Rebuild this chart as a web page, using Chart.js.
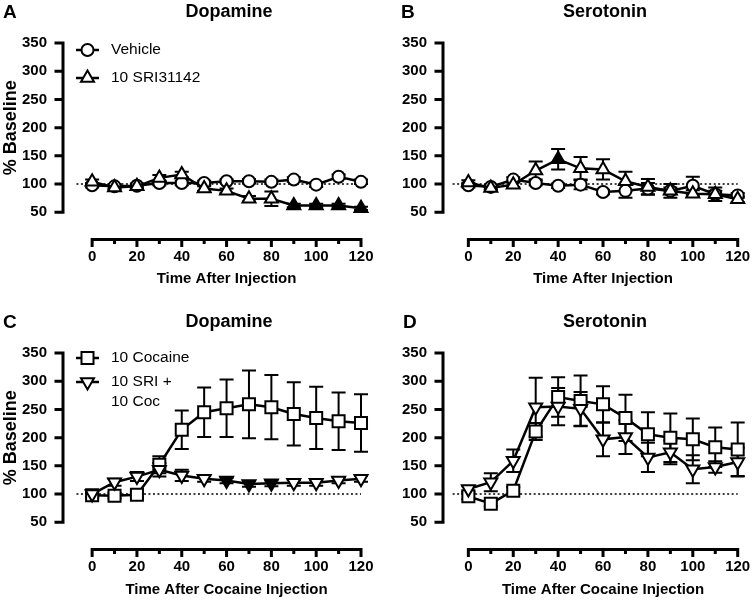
<!DOCTYPE html>
<html>
<head>
<meta charset="utf-8">
<script src="https://cdn.jsdelivr.net/npm/chart.js@4.4.0/dist/chart.umd.min.js"></script>
<style>
  body { margin: 0; background: #fff; }
  #wrap { display: grid; grid-template-columns: 376px 376px; grid-template-rows: 300px 300px; width: 752px; }
  canvas { display: block; }
</style>
</head>
<body>
<div id="wrap">
  <canvas id="pa" width="376" height="300"></canvas>
  <canvas id="pb" width="376" height="300"></canvas>
  <canvas id="pc" width="376" height="300"></canvas>
  <canvas id="pd" width="376" height="300"></canvas>
</div>
<script>
// time points (min) and axis ticks
const times = [0, 10, 20, 30, 40, 50, 60, 70, 80, 90, 100, 110, 120];
const xTickLabels = [0, 20, 40, 60, 80, 100, 120];
const xMinorTicks = [10, 30, 50, 70, 90, 110];
const yTickLabels = [50, 100, 150, 200, 250, 300, 350];
const baseline = 100;

// A - dopamine, SRI31142 alone
const daVehicle    = [98, 96, 97, 102, 102, 102, 105, 105, 104, 108, 99, 113, 104];
const daVehicleErr = [4, 4, 4, 4, 4, 4, 3, 4, 4, 4, 4, 4, 4];
const daSri        = [104, 94, 96, 111, 117, 92, 88, 74, 74, 62, 62, 62, 57];
const daSriErr     = [4, 4, 4, 5, 5, 4, 4, 5, 13, 3, 3, 3, 3];
const daSriSig     = [90, 100, 110, 120];

// B - serotonin, SRI31142 alone
const htVehicle    = [98, 95, 108, 102, 97, 99, 86, 88, 92, 88, 97, 82, 80];
const htVehicleErr = [4, 4, 4, 4, 4, 8, 4, 12, 10, 6, 16, 6, 4];
const htSri        = [103, 93, 99, 124, 144, 128, 126, 105, 95, 88, 83, 82, 73];
const htSriErr     = [4, 4, 4, 16, 18, 20, 18, 17, 14, 12, 6, 12, 5];
const htSriSig     = [40];

// C - dopamine, cocaine challenge
const daCoc        = [98, 97, 99, 152, 214, 245, 252, 259, 254, 242, 235, 229, 226];
const daCocErr     = [5, 5, 5, 15, 34, 44, 51, 60, 57, 56, 55, 51, 51];
const daSriCoc     = [100, 121, 131, 143, 133, 127, 124, 118, 119, 120, 120, 124, 127];
const daSriCocErr  = [5, 6, 8, 12, 10, 5, 5, 5, 5, 5, 5, 5, 5];
const daSriCocSig  = [60, 70, 80];

// D - serotonin, cocaine challenge
const htCoc        = [96, 83, 106, 211, 272, 265, 259, 235, 206, 200, 197, 183, 179];
const htCocErr     = [5, 5, 6, 15, 35, 45, 32, 41, 39, 43, 37, 35, 48];
const htSriCoc     = [109, 121, 159, 254, 255, 251, 197, 201, 165, 174, 144, 148, 157];
const htSriCocErr  = [5, 16, 20, 52, 33, 30, 30, 30, 26, 21, 25, 10, 25];

const FONT = '"Liberation Sans", Arial, Helvetica, sans-serif';
Chart.defaults.font.family = FONT;
Chart.defaults.color = '#000';

const shapes = {
  circle:  { pointStyle: 'circle', radius: 6, rotation: 0 },
  tri:     { pointStyle: 'triangle', radius: 7.5, rotation: 0 },
  triDown: { pointStyle: 'triangle', radius: 7.5, rotation: 180 },
  square:  { pointStyle: 'rect', radius: 8.5, rotation: 0 }
};

const rowTop = { top: 43, bottom: 239.4, titleY: 17, letterY: 18, xTitleY: 283, legendY: [50, 78] };
const rowBottom = { top: 53, bottom: 249.4, titleY: 27, letterY: 28, xTitleY: 294, legendY: [58, 82] };

const panels = [
  { id: 'pa', letter: 'A', letterX: 3, title: 'Dopamine', xTitle: 'Time After Injection', yTitle: '% Baseline',
    row: rowTop, left: 63, right: 361, xMin: -13, legend: true,
    series: [
      { label: '10 SRI31142', values: daSri, errs: daSriErr, sig: daSriSig, shape: 'tri' },
      { label: 'Vehicle', values: daVehicle, errs: daVehicleErr, sig: [], shape: 'circle' }
    ] },
  { id: 'pb', letter: 'B', letterX: 25, title: 'Serotonin', xTitle: 'Time After Injection', yTitle: null,
    row: rowTop, left: 67, right: 361.7, xMin: -11.3, legend: false,
    series: [
      { label: '10 SRI31142', values: htSri, errs: htSriErr, sig: htSriSig, shape: 'tri' },
      { label: 'Vehicle', values: htVehicle, errs: htVehicleErr, sig: [], shape: 'circle' }
    ] },
  { id: 'pc', letter: 'C', letterX: 3, title: 'Dopamine', xTitle: 'Time After Cocaine Injection', yTitle: '% Baseline',
    row: rowBottom, left: 63, right: 361, xMin: -13, legend: true,
    series: [
      { label: '10 SRI +\n10 Coc', values: daSriCoc, errs: daSriCocErr, sig: daSriCocSig, shape: 'triDown' },
      { label: '10 Cocaine', values: daCoc, errs: daCocErr, sig: [], shape: 'square' }
    ] },
  { id: 'pd', letter: 'D', letterX: 27, title: 'Serotonin', xTitle: 'Time After Cocaine Injection', yTitle: null,
    row: rowBottom, left: 67, right: 361.7, xMin: -11.3, legend: false,
    series: [
      { label: '10 SRI +\n10 Coc', values: htSriCoc, errs: htSriCocErr, sig: [], shape: 'triDown' },
      { label: '10 Cocaine', values: htCoc, errs: htCocErr, sig: [], shape: 'square' }
    ] }
];

function decor(p) {
  return {
    id: 'decor' + p.letter,
    beforeDatasetsDraw(chart) {
      // error bars sit behind the markers
      const ctx = chart.ctx, xs = chart.scales.x, ys = chart.scales.y;
      ctx.save();
      ctx.strokeStyle = '#000';
      ctx.lineWidth = 2;
      p.series.forEach(s => {
        s.values.forEach((v, i) => {
          const x = xs.getPixelForValue(times[i]);
          const y1 = ys.getPixelForValue(v + s.errs[i]);
          const y2 = ys.getPixelForValue(v - s.errs[i]);
          ctx.beginPath();
          ctx.moveTo(x, y1); ctx.lineTo(x, y2);
          ctx.moveTo(x - 7, y1); ctx.lineTo(x + 7, y1);
          ctx.moveTo(x - 7, y2); ctx.lineTo(x + 7, y2);
          ctx.stroke();
        });
      });
      ctx.restore();
    },
    afterDraw(chart) {
      const ctx = chart.ctx, xs = chart.scales.x, ys = chart.scales.y, a = chart.chartArea;
      ctx.save();
      ctx.strokeStyle = '#000';
      ctx.fillStyle = '#000';
      ctx.lineWidth = 3;
      ctx.lineCap = 'square';

      // y axis: line from 50 to 350 plus ticks
      ctx.beginPath();
      ctx.moveTo(a.left, ys.getPixelForValue(yTickLabels[0]));
      ctx.lineTo(a.left, ys.getPixelForValue(yTickLabels[yTickLabels.length - 1]));
      yTickLabels.forEach(v => {
        const y = ys.getPixelForValue(v);
        ctx.moveTo(a.left - 7, y); ctx.lineTo(a.left, y);
      });
      ctx.stroke();

      // x axis, detached below
      ctx.beginPath();
      ctx.moveTo(xs.getPixelForValue(0), a.bottom);
      ctx.lineTo(xs.getPixelForValue(120), a.bottom);
      xTickLabels.forEach(v => {
        const x = xs.getPixelForValue(v);
        ctx.moveTo(x, a.bottom); ctx.lineTo(x, a.bottom + 6);
      });
      xMinorTicks.forEach(v => {
        const x = xs.getPixelForValue(v);
        ctx.moveTo(x, a.bottom); ctx.lineTo(x, a.bottom + 3);
      });
      ctx.stroke();

      // titles
      ctx.textBaseline = 'alphabetic';
      ctx.textAlign = 'left';
      ctx.font = 'bold 19px ' + FONT;
      ctx.fillText(p.letter, p.letterX, p.row.letterY);
      ctx.textAlign = 'center';
      ctx.font = 'bold 18px ' + FONT;
      ctx.fillText(p.title, 229, p.row.titleY);
      ctx.font = 'bold 15px ' + FONT;
      const xMid = (xs.getPixelForValue(0) + xs.getPixelForValue(120)) / 2;
      ctx.fillText(p.xTitle, xMid, p.row.xTitleY);
      if (p.yTitle) {
        const yMid = (ys.getPixelForValue(50) + ys.getPixelForValue(350)) / 2;
        ctx.save();
        ctx.translate(16, yMid);
        ctx.rotate(-Math.PI / 2);
        ctx.font = 'bold 18px ' + FONT;
        ctx.fillText(p.yTitle, 0, 0);
        ctx.restore();
      }

      // legend inside the plot, top left
      if (p.legend) {
        ctx.font = '15.5px ' + FONT;
        ctx.textAlign = 'left';
        ctx.textBaseline = 'middle';
        p.series.slice().reverse().forEach((s, k) => {
          const y = p.row.legendY[k];
          const sh = shapes[s.shape];
          ctx.lineWidth = 2.5;
          ctx.lineCap = 'butt';
          ctx.beginPath();
          ctx.moveTo(76, y); ctx.lineTo(99, y);
          ctx.stroke();
          ctx.fillStyle = '#fff';
          ctx.lineWidth = 2;
          Chart.helpers.drawPoint(ctx, { pointStyle: sh.pointStyle, radius: sh.radius, rotation: sh.rotation, borderWidth: 2 }, 87.5, y);
          ctx.fillStyle = '#000';
          s.label.split('\n').forEach((line, j) => ctx.fillText(line, 111, y + j * 20));
        });
      }
      ctx.restore();
    }
  };
}

panels.forEach(p => {
  const datasets = p.series.map(s => {
    const sh = shapes[s.shape];
    return {
      label: s.label,
      data: times.map((t, i) => ({ x: t, y: s.values[i] })),
      borderColor: '#000',
      borderWidth: 2.5,
      pointStyle: sh.pointStyle,
      pointRadius: sh.radius,
      pointRotation: sh.rotation,
      pointBorderWidth: 2,
      pointBorderColor: '#000',
      pointBackgroundColor: times.map(t => s.sig.includes(t) ? '#000' : '#fff'),
      clip: false
    };
  });
  // dotted 100% baseline
  datasets.push({
    label: 'baseline',
    data: [{ x: -7, y: baseline }, { x: 120, y: baseline }],
    borderColor: '#000',
    borderWidth: 1.5,
    borderDash: [2, 2.5],
    pointRadius: 0,
    clip: false
  });

  new Chart(document.getElementById(p.id), {
    type: 'line',
    data: { datasets },
    options: {
      responsive: false,
      animation: false,
      devicePixelRatio: 1,
      events: [],
      layout: { padding: { top: p.row.top, right: 376 - p.right, left: 0, bottom: 0 } },
      plugins: { legend: { display: false }, tooltip: { enabled: false } },
      scales: {
        x: {
          type: 'linear', min: p.xMin, max: 120,
          grid: { display: false }, border: { display: false },
          ticks: { font: { size: 15, weight: 'bold' }, padding: 0, maxRotation: 0 },
          afterBuildTicks: s => { s.ticks = xTickLabels.map(v => ({ value: v })); },
          afterFit: s => { s.height = 300 - p.row.bottom; }
        },
        y: {
          type: 'linear', min: 2, max: 350,
          grid: { display: false }, border: { display: false },
          ticks: { font: { size: 15, weight: 'bold' }, padding: 8 },
          afterBuildTicks: s => { s.ticks = yTickLabels.map(v => ({ value: v })); },
          afterFit: s => { s.width = p.left; }
        }
      }
    },
    plugins: [decor(p)]
  });
});
</script>
</body>
</html>
